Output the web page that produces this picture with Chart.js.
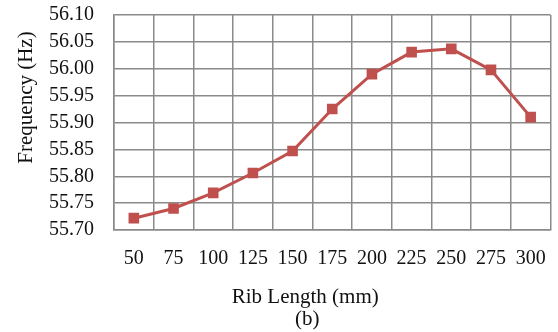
<!DOCTYPE html>
<html>
<head>
<meta charset="utf-8">
<script src="https://cdn.jsdelivr.net/npm/chart.js@4"></script>
<style>
  html, body { margin: 0; padding: 0; background: #fff; }
  #wrap { width: 558px; height: 332px; }
</style>
</head>
<body>
<div id="wrap"><canvas id="freqChart" width="558" height="332"></canvas></div>
<script>
// rib length sweep vs. natural frequency
const ribLengths = ['50', '75', '100', '125', '150', '175', '200', '225', '250', '275', '300'];
const frequencies = [55.722, 55.740, 55.769, 55.806, 55.847, 55.925, 55.990, 56.031, 56.037, 55.998, 55.910];
const yTicks = { min: 55.70, max: 56.10, step: 0.05 };

const RED = '#C0504D';
const GRID = '#8a8a8a';
const SERIF = "'Liberation Serif', 'Times New Roman', serif";
const TICK_FONT = { family: SERIF, size: 20 };

Chart.defaults.font.family = SERIF;
Chart.defaults.font.size = 20;
Chart.defaults.color = '#111';

// Axis captions sit a little off-centre (Excel-style), so draw them ourselves
const axisCaptions = {
  id: 'axisCaptions',
  afterDraw(chart) {
    const { ctx, chartArea: a } = chart;
    ctx.save();
    ctx.fillStyle = '#111';
    ctx.font = `21px ${SERIF}`;
    ctx.textAlign = 'center';
    ctx.textBaseline = 'middle';
    const cx = (a.left + a.right) / 2 - 27;
    ctx.fillText('Rib Length (mm)', cx, a.bottom + 67);
    ctx.fillText('(b)', cx + 2, a.bottom + 89);
    ctx.translate(26, (a.top + a.bottom) / 2 - 25);
    ctx.rotate(-Math.PI / 2);
    ctx.fillText('Frequency (Hz)', 0, 0);
    ctx.restore();
  }
};

// no extra label padding around the plot box; layout padding handles it
function noEdgePadding(s) {
  s.paddingLeft = 0;
  s.paddingRight = 0;
  s.paddingTop = 0;
  s.paddingBottom = 0;
}

new Chart(document.getElementById('freqChart'), {
  type: 'line',
  data: {
    labels: ribLengths,
    datasets: [{
      data: frequencies,
      borderColor: RED,
      backgroundColor: RED,
      borderWidth: 3,
      pointStyle: 'rect',
      pointRadius: 7.5,
      pointHoverRadius: 7.5,
      pointBorderWidth: 0,
      tension: 0
    }]
  },
  plugins: [axisCaptions],
  options: {
    responsive: false,
    animation: false,
    layout: { padding: { top: 15, right: 2, left: 0, bottom: 0 } },
    plugins: { legend: { display: false }, tooltip: { enabled: false } },
    scales: {
      x: {
        offset: true,
        grid: { offset: true, color: GRID, lineWidth: 1.5, tickLength: 17, tickColor: 'rgba(0,0,0,0)' },
        border: { color: GRID, width: 1.5 },
        ticks: { font: TICK_FONT, padding: 0, maxRotation: 0, autoSkip: false },
        afterFit(s) { s.height = 102; noEdgePadding(s); }
      },
      y: {
        min: yTicks.min,
        max: yTicks.max,
        grid: { color: GRID, lineWidth: 1.5, tickLength: 20, tickColor: 'rgba(0,0,0,0)' },
        border: { color: GRID, width: 1.5 },
        ticks: { font: TICK_FONT, stepSize: yTicks.step, padding: 0, autoSkip: false, callback: (v) => Number(v).toFixed(2) },
        afterFit(s) { s.width = 114; noEdgePadding(s); }
      }
    }
  }
});
</script>
</body>
</html>
